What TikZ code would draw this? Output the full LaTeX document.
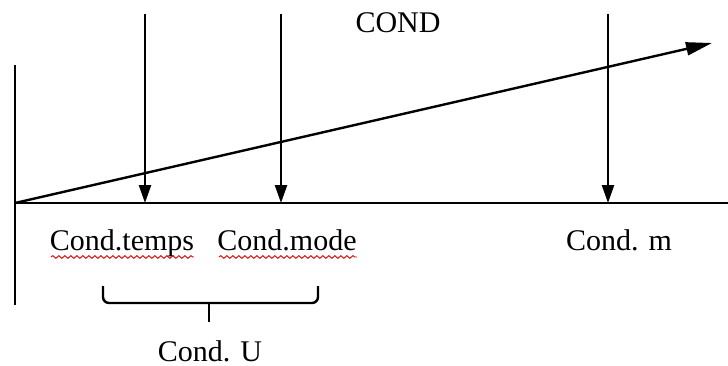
\documentclass[tikz,border=0pt]{standalone}
\usepackage{fontspec}
\setmainfont{Liberation Serif}
\usetikzlibrary{arrows.meta,decorations.pathmorphing}
\begin{document}
\begin{tikzpicture}[x=0.5pt,y=-0.5pt,
  axis/.style={line width=1.2pt,black},
  darrow/.style={line width=1.2pt,-{Triangle[length=9pt,width=6pt]}},
  lbl/.style={font=\fontsize{15}{17}\selectfont,anchor=base,inner sep=0pt},
  spell/.style={red!85!black,line width=0.45pt,decorate,decoration={snake,amplitude=0.7pt,segment length=3pt}}]
\useasboundingbox (0,0) rectangle (728,365);
% axes
\coordinate (vtop) at (15,65);
\coordinate (vbot) at (15,305);
\coordinate (o) at (15,203);
\coordinate (hend) at (728,203);
\coordinate (dend) at (712,43);
\draw[axis] (vtop) -- (vbot);
\draw[axis] (o) -- (hend);
\draw[line width=1.2pt,-{Triangle[length=13pt,width=6.5pt]}] (o) -- (dend);
% vertical arrows
\coordinate (a1t) at (145,14); \coordinate (a1b) at (145,203);
\coordinate (a2t) at (281,14); \coordinate (a2b) at (281,203);
\coordinate (a3t) at (608,14); \coordinate (a3b) at (608,203);
\draw[darrow] (a1t) -- (a1b);
\draw[darrow] (a2t) -- (a2b);
\draw[darrow] (a3t) -- (a3b);
% labels
\node[lbl] (cond) at (398,32) {COND};
\node[lbl] (temps) at (122,250) {Cond.temps};
\node[lbl] (mode) at (287,250) {Cond.mode};
\node[lbl] (m) at (619,250) {Cond. m};
\node[lbl] (u) at (210,361) {Cond. U};
% spell-check underlines
\draw[spell] (51,257) -- (194,257);
\draw[spell] (219,257) -- (357,257);
% brace
\coordinate (b1) at (103,286);
\coordinate (b2) at (318,286);
\coordinate (bm) at (209,303);
\coordinate (btip) at (209,322);
\draw[line width=1.2pt,rounded corners=3pt] (b1) -- (103,303) -- (318,303) -- (b2);
\draw[line width=1.2pt] (bm) -- (btip);
\end{tikzpicture}
\end{document}
